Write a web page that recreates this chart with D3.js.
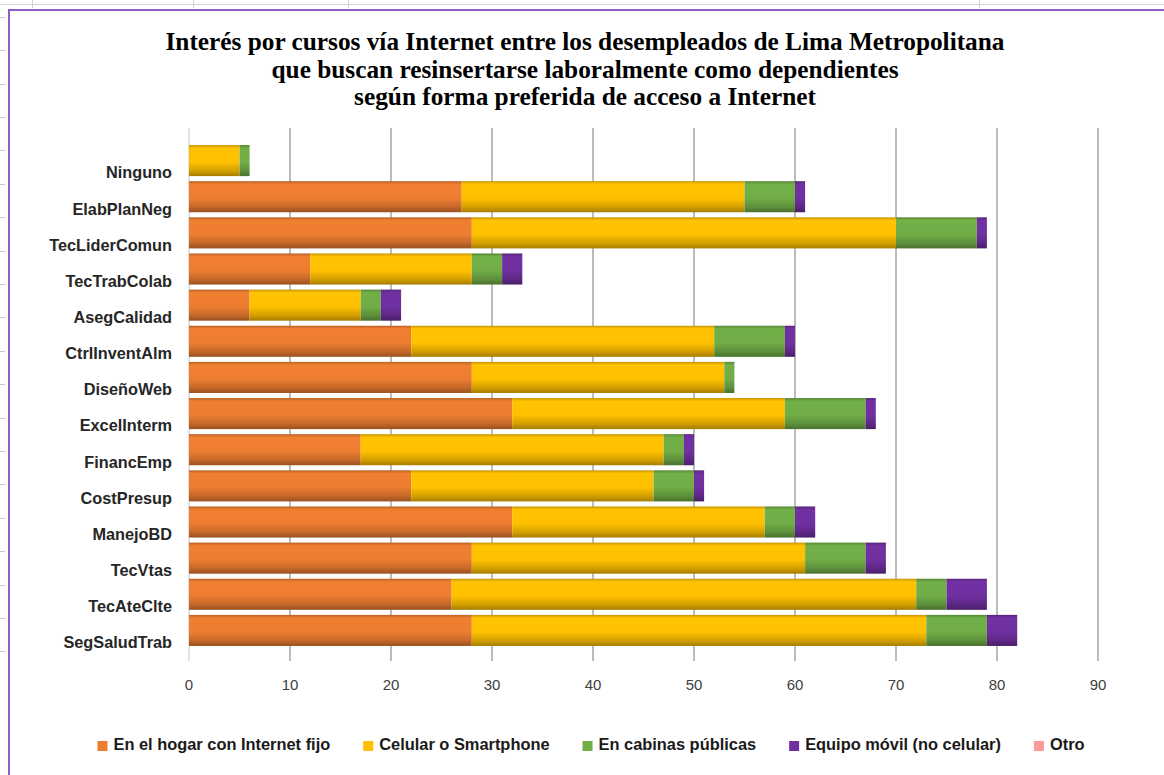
<!DOCTYPE html>
<html>
<head>
<meta charset="utf-8">
<script src="https://cdn.jsdelivr.net/npm/d3@7"></script>
<style>
  html, body { margin: 0; padding: 0; background: #fff; }
  svg { display: block; }
  .cat text { font-family: "Liberation Sans", Arial, sans-serif; font-weight: bold; font-size: 16.3px; fill: #262626; }
  .xt text { font-family: "Liberation Sans", Arial, sans-serif; font-size: 15px; fill: #404040; }
  .legend text { font-family: "Liberation Sans", Arial, sans-serif; font-weight: bold; font-size: 16.4px; fill: #1a1a1a; }
  .title { font-family: "Liberation Serif", "Times New Roman", serif; font-weight: bold; font-size: 25.3px; fill: #000; }
</style>
</head>
<body>
<div id="viz"></div>
<script>
// chart data
var titleLines = [
  "Interés por cursos vía Internet entre los desempleados de Lima Metropolitana",
  "que buscan resinsertarse laboralmente como dependientes",
  "según forma preferida de acceso a Internet"
];
var categories = ["Ninguno", "ElabPlanNeg", "TecLiderComun", "TecTrabColab", "AsegCalidad",
  "CtrlInventAlm", "DiseñoWeb", "ExcelInterm", "FinancEmp", "CostPresup", "ManejoBD",
  "TecVtas", "TecAteClte", "SegSaludTrab"];
var seriesNames = ["En el hogar con Internet fijo", "Celular o Smartphone", "En cabinas públicas",
  "Equipo móvil (no celular)", "Otro"];
var hogar    = [0, 27, 28, 12, 6, 22, 28, 32, 17, 22, 32, 28, 26, 28];
var celular  = [5, 28, 42, 16, 11, 30, 25, 27, 30, 24, 25, 33, 46, 45];
var cabinas  = [1, 5, 8, 3, 2, 7, 1, 8, 2, 4, 3, 6, 3, 6];
var movil    = [0, 1, 1, 2, 2, 1, 0, 1, 1, 1, 2, 2, 4, 3];
var otro     = [0, 0, 0, 0, 0, 0, 0, 0, 0, 0, 0, 0, 0, 0];
var xTicks   = [0, 10, 20, 30, 40, 50, 60, 70, 80, 90];
var colors   = ["#ED7D31", "#FFC000", "#70AD47", "#7030A0", "#FF9999"];

var width = 1164, height = 775;

var rows = categories.map(function(c, i) {
  return { cat: c, s0: hogar[i], s1: celular[i], s2: cabinas[i], s3: movil[i], s4: otro[i] };
});
var keys = ["s0", "s1", "s2", "s3", "s4"];
var stacked = d3.stack().keys(keys)(rows);

var svg = d3.select("#viz").append("svg")
  .attr("width", width).attr("height", height);

// spreadsheet background bits behind the chart object
svg.append("line").attr("x1", 0).attr("x2", width).attr("y1", 4.5).attr("y2", 4.5)
  .attr("stroke", "#d4d4d4").attr("stroke-width", 1);
[32, 193, 348, 979].forEach(function(x) {
  svg.append("line").attr("x1", x + 0.5).attr("x2", x + 0.5).attr("y1", 0).attr("y2", 8)
    .attr("stroke", "#d4d4d4");
});
d3.range(0, 20).forEach(function(i) {
  var yy = 117 + i * 33.4 - 33.4 * 3;
  svg.append("line").attr("x1", 0).attr("x2", 5).attr("y1", Math.round(yy) + 0.5).attr("y2", Math.round(yy) + 0.5)
    .attr("stroke", "#c8c8c8");
});
// purple frame of the chart object
svg.append("path").attr("d", "M9,775 L9,10 L1164,10")
  .attr("fill", "none").attr("stroke", "#8e5fc9").attr("stroke-width", 2);

var x = d3.scaleLinear().domain([0, 90]).range([189, 1098]);
var y = d3.scaleBand().domain(categories).range([142.5, 648.5]).paddingInner(0.14).paddingOuter(0.07);

// gradients for the bevelled bar look
var defs = svg.append("defs");
colors.forEach(function(c, i) {
  var g = defs.append("linearGradient").attr("id", "g" + i)
    .attr("x1", 0).attr("x2", 0).attr("y1", 0).attr("y2", 1);
  var base = d3.color(c);
  g.append("stop").attr("offset", "0%").attr("stop-color", base.darker(0.7));
  g.append("stop").attr("offset", "10%").attr("stop-color", base.brighter(0.05));
  g.append("stop").attr("offset", "55%").attr("stop-color", base);
  g.append("stop").attr("offset", "82%").attr("stop-color", base.darker(0.5));
  g.append("stop").attr("offset", "100%").attr("stop-color", base.darker(1.2));
});

// title
svg.selectAll("text.title").data(titleLines).enter().append("text")
  .attr("class", "title")
  .attr("x", 585)
  .attr("y", function(d, i) { return 50 + i * 27.5; })
  .attr("text-anchor", "middle")
  .text(function(d) { return d; });

// vertical gridlines
var gy0 = 128, gy1 = 661;
svg.append("g").selectAll("line").data(xTicks).enter().append("line")
  .attr("x1", function(d) { return x(d); }).attr("x2", function(d) { return x(d); })
  .attr("y1", gy0).attr("y2", gy1)
  .attr("stroke", function(d) { return d === 0 ? "#d9d9d9" : "#a6a6a6"; })
  .attr("stroke-width", 1.5);

// bars
svg.append("g").selectAll("g").data(stacked).enter().append("g")
  .attr("fill", function(d, i) { return "url(#g" + i + ")"; })
  .selectAll("rect").data(function(d) { return d; }).enter().append("rect")
    .attr("x", function(d) { return x(d[0]); })
    .attr("y", function(d) { return y(d.data.cat); })
    .attr("width", function(d) { return x(d[1]) - x(d[0]); })
    .attr("height", y.bandwidth());

// category labels (Excel draws them a bit below the bar centre)
svg.append("g").attr("class", "cat").selectAll("text").data(categories).enter().append("text")
  .attr("x", 172)
  .attr("y", function(d) { return y(d) + y.bandwidth() / 2 + 13.5; })
  .attr("text-anchor", "end")
  .attr("dominant-baseline", "middle")
  .text(function(d) { return d; });

// x tick labels
svg.append("g").attr("class", "xt").selectAll("text").data(xTicks).enter().append("text")
  .attr("x", function(d) { return x(d); })
  .attr("y", 686)
  .attr("text-anchor", "middle")
  .attr("dominant-baseline", "middle")
  .text(function(d) { return d; });

// legend, centred under the plot
var gap = 33;
var legend = svg.append("g").attr("class", "legend");
var items = legend.selectAll("g").data(seriesNames).enter().append("g");
items.append("rect").attr("width", 10).attr("height", 10).attr("y", -5)
  .attr("fill", function(d, i) { return colors[i]; });
items.append("text").attr("x", 16).attr("dominant-baseline", "middle")
  .text(function(d) { return d; });
var pos = 0, offs = [];
items.each(function() {
  offs.push(pos);
  pos += this.getBBox().width + gap;
});
var total = pos - gap;
var lx0 = 591 - total / 2;
items.attr("transform", function(d, i) { return "translate(" + (lx0 + offs[i]) + ",746)"; });
</script>
</body>
</html>
